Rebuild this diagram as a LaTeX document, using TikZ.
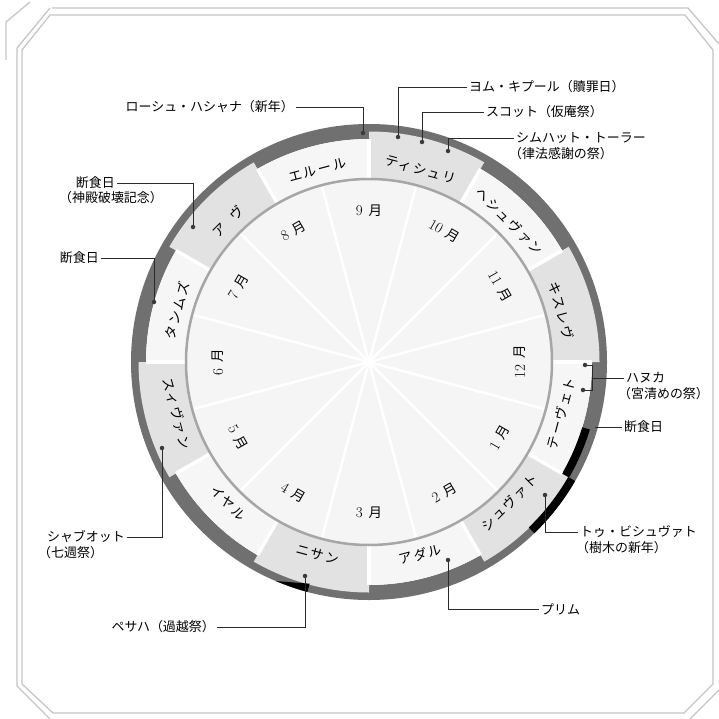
\documentclass[tikz,border=0pt]{standalone}
\usepackage{fontspec}
\setmainfont{Noto Sans CJK JP}
\newfontfamily\dig{Latin Modern Roman}
\newfontfamily\jpls[LetterSpace=12]{Noto Sans CJK JP}
\usetikzlibrary{calc}
\definecolor{ringc}{HTML}{707070}
\definecolor{segg}{HTML}{E2E2E2}
\definecolor{segw}{HTML}{F6F6F6}
\definecolor{discc}{HTML}{F5F5F5}
\definecolor{linec}{HTML}{A6A6A6}
\definecolor{framec}{HTML}{C6C6C6}
\definecolor{dotc}{HTML}{3A3A3A}
\definecolor{leadc}{HTML}{2A2A2A}
\newcommand\sect[5]{\fill[#1] (#2:#4) arc[start angle=#2,end angle=#3,radius=#4] -- (#3:#5) arc[start angle=#3,end angle=#2,radius=#5] -- cycle;}
\newcommand\monthlabel[3]{%
  \ifdim #1pt>0pt \ifdim #1pt>180pt \node[#3,rotate=#1+90] at (#1:\rr) {#2};\else\node[#3,rotate=#1-90] at (#1:\rr) {#2};\fi
  \else \node[#3,rotate=#1+90] at (#1:\rr) {#2};\fi}
\newcommand\mn[1]{{\dig\fontsize{15}{16}\selectfont #1}\hspace{0.45em}月}
\begin{document}
\begin{tikzpicture}[x=1bp,y=1bp,
  lab/.style={font=\fontsize{13}{15}\selectfont, inner xsep=2bp, inner ysep=0pt, text=black},
  mon/.style={font=\fontsize{13.5}{15}\selectfont, inner sep=0pt, text=black},
  heb/.style={font=\jpls\fontsize{13.5}{15}\selectfont, inner sep=0pt, text=black},
  lead/.style={draw=leadc, line width=0.7bp},
  pin/.style={circle, fill=dotc, inner sep=0pt, minimum size=4.5bp},
  frm/.style={draw=framec, line width=1.3bp}]
\useasboundingbox (0,0) rectangle (719,-719);
\fill[white] (0,0) rectangle (719,-719);
% ---------- frame ----------
\draw[frm] (17,-48) -- (17,-686) -- (50,-719);
\draw[frm] (22,-50) -- (22,-684) -- (53,-713) -- (684,-713) -- (713,-684) -- (713,-50) -- (685,-15) -- (50,-15) -- cycle;
\draw[frm] (52,-8) -- (688,-8) -- (719,-44);
\draw[frm] (17,-48) -- (50,-8);
\draw[frm] (6,-60) -- (6,-22) -- (30,-2);
\draw[frm] (719,-690) -- (690,-719);
% ---------- wheel ----------
\begin{scope}[shift={(369,-362)}]
  \sect{ringc}{0}{360}{223}{238}
  \foreach \a in {60,0,-60,-120,180,120}{\sect{segg}{\a}{\a+30}{183}{230.5}}
  \foreach \a in {90,30,-30,-90,-150,150}{\sect{segw}{\a}{\a+30}{183}{223}}
  \sect{black}{-17}{-30}{223}{231}
  \sect{black}{-30}{-46}{230}{238}
  \fill[black] (-105:229.5) -- (-105:238) arc[start angle=-105,end angle=-113,radius=238] -- cycle;
  \foreach \a in {0,30,...,330}{\draw[white,line width=3.5bp] (\a:183) -- (\a:223);}
  \fill[discc] (0,0) circle[radius=183];
  \foreach \a in {15,45,...,345}{\draw[white,line width=2.5bp] (0,0) -- (\a:181);}
  \draw[linec,line width=2.5bp] (0,0) circle[radius=183];
  \def\rr{151}
  \monthlabel{90}{\mn{9}}{mon}
  \monthlabel{60}{\mn{10}}{mon}
  \monthlabel{30}{\mn{11}}{mon}
  \monthlabel{0}{\mn{12}}{mon}
  \monthlabel{-30}{\mn{1}}{mon}
  \monthlabel{-60}{\mn{2}}{mon}
  \monthlabel{-90}{\mn{3}}{mon}
  \monthlabel{-120}{\mn{4}}{mon}
  \monthlabel{-150}{\mn{5}}{mon}
  \monthlabel{180}{\mn{6}}{mon}
  \monthlabel{150}{\mn{7}}{mon}
  \monthlabel{120}{\mn{8}}{mon}
  \def\rr{199}
  \monthlabel{105}{エルール}{heb}
  \monthlabel{75}{ティシュリ}{heb}
  \monthlabel{45}{ヘシュヴァン}{heb}
  \monthlabel{15}{キスレヴ}{heb}
  \monthlabel{-15}{テーヴェト}{heb}
  \monthlabel{-45}{シュヴァト}{heb}
  \monthlabel{-75}{アダル}{heb}
  \monthlabel{-105}{ニサン}{heb}
  \monthlabel{-135}{イヤル}{heb}
  \monthlabel{-165}{スィヴァン}{heb}
  \monthlabel{165}{タンムズ}{heb}
  \monthlabel{135}{ア\hspace{0.8em}ヴ}{heb}
\end{scope}
% ---------- pins ----------
\node[pin] (drh) at (363,-133) {};
\node[pin] (dyk) at (398,-137) {};
\node[pin] (dsk) at (422,-142) {};
\node[pin] (dst) at (448,-151) {};
\node[pin] (dav) at (193,-227) {};
\node[pin] (dft) at (154,-302) {};
\node[pin] (dsh) at (162,-448) {};
\node[pin] (dps) at (305,-576) {};
\node[pin] (dpu) at (448,-560) {};
\node[pin] (dtb) at (545,-495) {};
\node[pin] (dh1) at (585,-365) {};
\node[pin] (dh2) at (583,-390) {};
\coordinate (fr) at (595,-427);
% ---------- labels ----------
\node[lab,anchor=east] (lrh) at (296,-107) {ローシュ・ハシャナ（新年）};
\node[lab,anchor=west] (lyk) at (467,-87) {ヨム・キプール（贖罪日）};
\node[lab,anchor=west] (lsk) at (484,-112) {スコット（仮庵祭）};
\node[lab,anchor=west] (lst) at (514,-138) {シムハット・トーラー};
\node[lab,anchor=west] at (507,-154) {（律法感謝の祭）};
\node[lab,anchor=east] (lav) at (117,-183) {断食日};
\node[lab,anchor=west] at (57,-198) {（神殿破壊記念）};
\node[lab,anchor=east] (lft) at (101,-258) {断食日};
\node[lab,anchor=east] (lsh) at (127,-537) {シャブオット};
\node[lab,anchor=west] at (36,-553) {（七週祭）};
\node[lab,anchor=east] (lps) at (217,-627) {ペサハ（過越祭）};
\node[lab,anchor=west] (lpu) at (539,-609) {プリム};
\node[lab,anchor=west] (ltb) at (578,-532) {トゥ・ビシュヴァト};
\node[lab,anchor=west] at (574,-548) {（樹木の新年）};
\node[lab,anchor=west] (lhn) at (624,-378) {ハヌカ};
\node[lab,anchor=west] at (616,-394) {（宮清めの祭）};
\node[lab,anchor=west] (lfr) at (622,-427) {断食日};
% ---------- leaders ----------
\draw[lead] (drh) |- (lrh.east);
\draw[lead] (dyk) |- (lyk.west);
\draw[lead] (dsk) |- (lsk.west);
\draw[lead] (dst) |- (lst.west);
\draw[lead] (dav) |- (lav.east);
\draw[lead] (dft) |- (lft.east);
\draw[lead] (dsh) |- (lsh.east);
\draw[lead] (dps) |- (lps.east);
\draw[lead] (dpu) |- (lpu.west);
\draw[lead] (dtb) |- (ltb.west);
\draw[lead] (dh1) -| (592,-378);
\draw[lead] (dh2) -| (592,-378);
\draw[lead] (592,-378) -- (lhn.west);
\draw[lead] (fr) -- (lfr.west);
\end{tikzpicture}
\end{document}
